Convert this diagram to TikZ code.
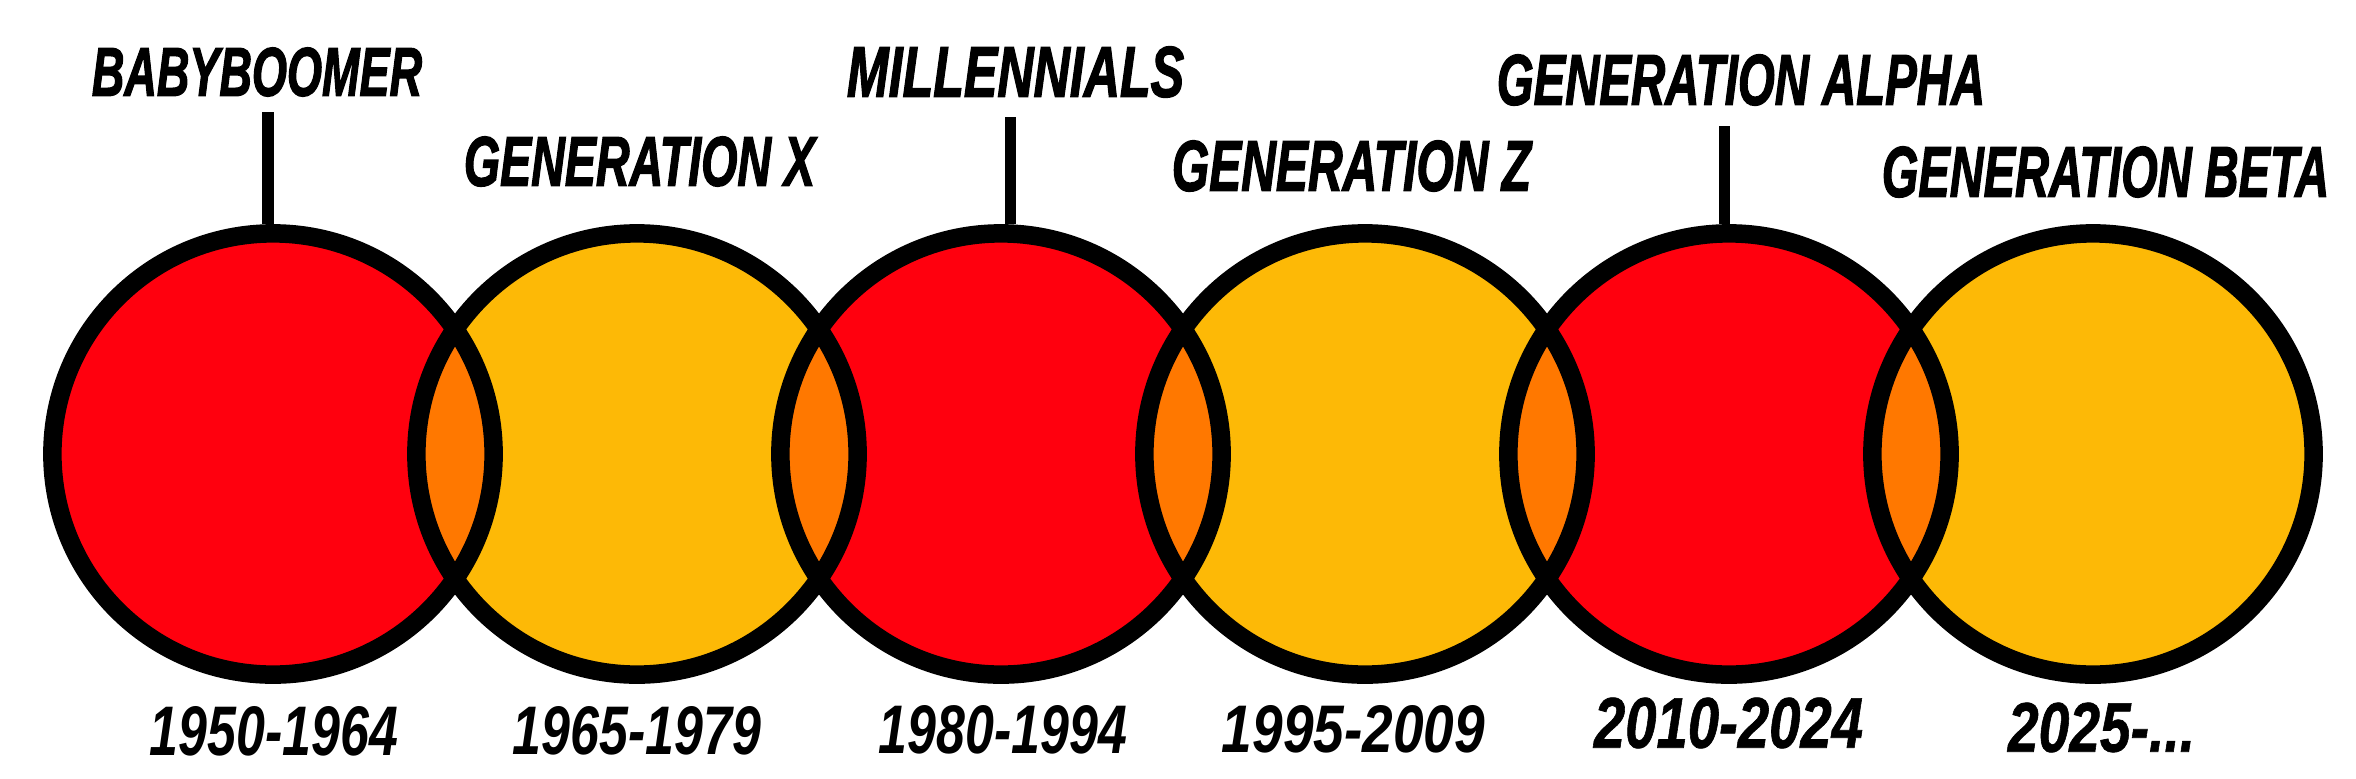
\documentclass[tikz,border=0pt]{standalone}
\usepackage{fontspec}
\setmainfont{Liberation Sans}
\newfontfamily\heavyfont[FakeBold=2.2]{Liberation Sans}
\newfontfamily\yearfont[FakeBold=1.0]{Liberation Sans}
\usepackage{graphicx}
\definecolor{genred}{RGB}{255,0,14}
\definecolor{genyellow}{RGB}{253,185,6}
\definecolor{genorange}{RGB}{255,120,0}
\newcommand{\fitbox}[3]{\resizebox{#1cm}{#2cm}{#3}}
\tikzset{
  gencircle/.style={circle, minimum size=4.41cm, inner sep=0pt, line width=0.185cm},
  genname/.style={inner sep=0pt, font=\heavyfont\bfseries\itshape},
  genyear/.style={inner sep=0pt, font=\bfseries\itshape},
  genyearbold/.style={inner sep=0pt, font=\yearfont\bfseries\itshape},
  stem/.style={line width=0.11cm}
}
\begin{document}
\begin{tikzpicture}[x=0.01cm, y=-0.01cm]
\useasboundingbox[fill=white] (0,0) rectangle (2356,778);
% circles (fill)
\node[gencircle, fill=genred]    (c1) at (273,454) {};
\node[gencircle, fill=genyellow] (c2) at (637,454) {};
\node[gencircle, fill=genred]    (c3) at (1001,454) {};
\node[gencircle, fill=genyellow] (c4) at (1365,454) {};
\node[gencircle, fill=genred]    (c5) at (1729,454) {};
\node[gencircle, fill=genyellow] (c6) at (2093,454) {};
% overlaps
\foreach \a/\b in {c1/c2, c2/c3, c3/c4, c4/c5, c5/c6}{
  \begin{scope}
    \clip (\a.center) circle (2.205cm);
    \fill[genorange] (\b.center) circle (2.205cm);
  \end{scope}
}
% outlines
\foreach \c in {c1,c2,c3,c4,c5,c6}{
  \draw[line width=0.185cm] (\c.center) circle (2.205cm);
}
% top labels
\node[genname] (n1) at (257,72)     {\fitbox{3.30}{0.48}{BABYBOOMER}};
\node[genname] (n2) at (639.5,161.5){\fitbox{3.51}{0.49}{GENERATION X}};
\node[genname] (n3) at (1015.5,72)  {\fitbox{3.37}{0.50}{MILLENNIALS}};
\node[genname] (n4) at (1351.5,166) {\fitbox{3.59}{0.50}{GENERATION Z}};
\node[genname] (n5) at (1741,80)    {\fitbox{4.88}{0.50}{GENERATION ALPHA}};
\node[genname] (n6) at (2105.5,172) {\fitbox{4.47}{0.50}{GENERATION BETA}};
% stems
\coordinate (s1) at (268,112);
\coordinate (s3) at (1010,117);
\coordinate (s5) at (1724,126);
\draw[stem] (s1) -- (s1 |- c1.north);
\draw[stem] (s3) -- (s3 |- c3.north);
\draw[stem] (s5) -- (s5 |- c5.north);
% years
\node[genyear] (y1) at (274,731.5)    {\fitbox{2.48}{0.49}{1950-1964}};
\node[genyear] (y2) at (637,731)      {\fitbox{2.48}{0.48}{1965-1979}};
\node[genyear] (y3) at (1003,730)     {\fitbox{2.48}{0.48}{1980-1994}};
\node[genyear] (y4) at (1353.5,729.5) {\fitbox{2.63}{0.47}{1995-2009}};
\node[genyearbold] (y5) at (1728.5,723) {\fitbox{2.69}{0.50}{2010-2024}};
\node[genyearbold] (y6) at (2101.5,727.5) {\fitbox{1.87}{0.49}{2025-...}};
\end{tikzpicture}
\end{document}
